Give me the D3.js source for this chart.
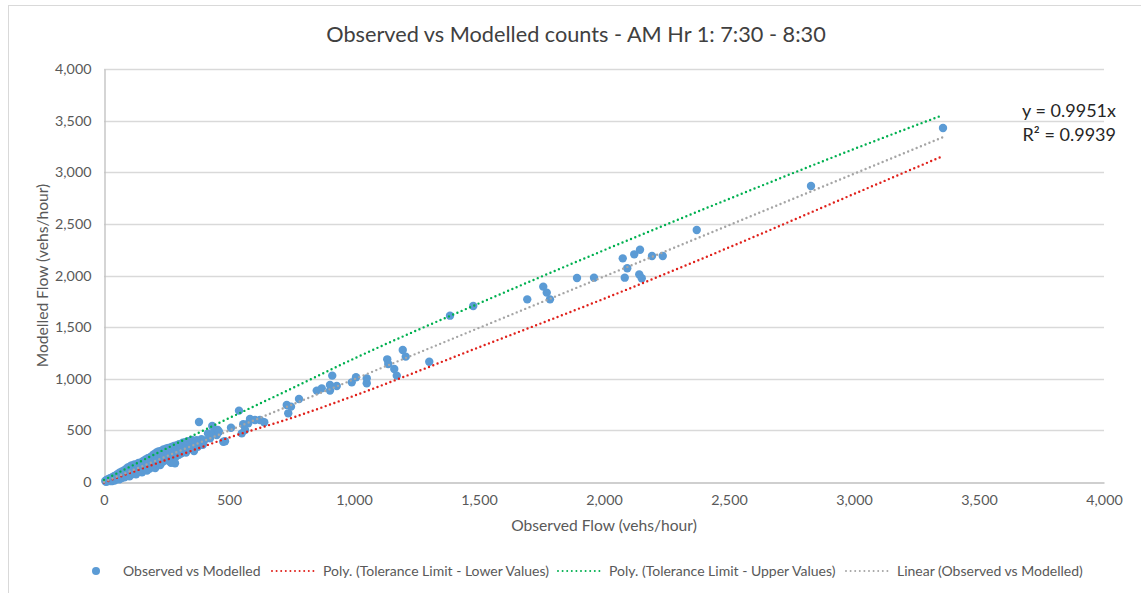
<!DOCTYPE html>
<html>
<head>
<meta charset="utf-8">
<script src="https://cdn.jsdelivr.net/npm/d3@7"></script>
<style>
  html, body { margin: 0; padding: 0; background: #fff; }
  svg { display: block; font-family: Lato, "Open Sans", sans-serif; }
</style>
</head>
<body>
<svg id="chart" width="1141" height="593"></svg>
<script>
// Observed vs modelled flow pairs (vehs/hour)
const observed = [
  5,8,10,12,15,18,20,22,25,28,30,32,35,38,40,42,45,48,50,52,55,58,60,62,65,68,70,72,75,78,
  80,82,85,88,90,92,95,98,100,102,105,108,110,112,115,118,120,122,125,128,130,133,135,138,140,142,145,148,150,152,
  155,158,160,162,165,168,170,172,175,178,180,183,185,188,190,193,195,198,200,203,205,208,210,213,215,218,220,223,225,228,
  230,233,235,238,240,245,248,250,253,255,258,260,263,265,268,270,275,278,280,284,288,290,295,298,300,305,308,310,315,320,
  325,328,330,335,340,345,351,355,360,365,370,375,380,390,395,400,416,424,433,437,451,455,460,477,484,508,540,551,557,564,
  577,584,604,624,641,731,737,748,780,851,871,904,904,913,931,991,1008,1051,1051,1133,1137,1161,1171,1195,1207,1301,
  1384,1477,1693,1757,1771,1784,1892,1960,2075,2083,2093,2121,2141,2144,2151,2192,2235,2371,2828,3356
];
const modelled = [
  10,3,20,6,24,10,30,14,38,18,8,45,22,35,55,15,40,65,28,50,78,38,25,90,55,35,100,62,45,110,
  70,45,85,125,60,105,140,75,95,55,150,105,160,75,120,145,90,170,125,75,155,130,95,185,150,100,165,190,130,95,
  150,205,175,118,215,145,190,110,230,165,205,130,240,185,150,255,215,160,270,205,135,240,285,180,230,295,205,260,165,300,
  240,280,195,315,255,210,290,325,230,275,330,205,305,250,185,340,290,235,350,181,250,355,310,260,365,325,275,340,380,300,
  385,285,345,395,320,365,407,335,300,380,405,340,390,415,360,400,470,423,542,471,455,504,487,390,394,526,691,471,559,504,
  568,610,600,600,578,746,665,730,804,885,907,939,885,1030,930,965,1014,1004,956,1188,1143,1094,1030,1278,1214,1165,
  1611,1705,1769,1892,1834,1769,1976,1979,2166,1979,2070,2205,2011,2250,1973,2189,2189,2441,2867,3428
];
// A few isolated readings above the main band
const extraObserved = [380];
const extraModelled = [581];

// Tolerance limit trend curves (observed flow -> modelled flow)
const tolX = [0, 250, 500, 750, 1000, 1500, 2000, 2500, 3000, 3356];
const tolUpper = [20, 325, 618, 905, 1195, 1730, 2245, 2742, 3225, 3554];
const tolLower = [-5, 215, 430, 620, 835, 1305, 1775, 2272, 2790, 3157];

// Linear fit through origin
const slope = 0.9951;
const rSquared = 0.9939;
const fitMaxX = 3356;

const xTicks = [0, 500, 1000, 1500, 2000, 2500, 3000, 3500, 4000];
const yTicks = [0, 500, 1000, 1500, 2000, 2500, 3000, 3500, 4000];

const legendLabels = [
  "Observed vs Modelled",
  "Poly. (Tolerance Limit - Lower Values)",
  "Poly. (Tolerance Limit - Upper Values)",
  "Linear (Observed vs Modelled)"
];

const svg = d3.select("#chart");
const textColor = "#595959";
const gridColor = "#d9d9d9";

// Outer chart frame
svg.append("rect")
  .attr("x", 8.5).attr("y", 5.5)
  .attr("width", 1200).attr("height", 700)
  .attr("fill", "none").attr("stroke", gridColor).attr("stroke-width", 1);

const x = d3.scaleLinear().domain([0, 4000]).range([104, 1104]);
const y = d3.scaleLinear().domain([0, 4000]).range([482, 69]);

// Horizontal gridlines
svg.append("g").selectAll("line")
  .data(yTicks.filter(d => d > 0))
  .join("line")
  .attr("x1", x(0)).attr("x2", x(4000))
  .attr("y1", d => Math.round(y(d)) + 0.5).attr("y2", d => Math.round(y(d)) + 0.5)
  .attr("stroke", gridColor).attr("stroke-width", 1.3);

// Axes
const xAxis = svg.append("g")
  .attr("transform", `translate(0,${Math.round(y(0)) + 0.5})`)
  .call(d3.axisBottom(x).tickValues(xTicks).tickSize(0).tickPadding(12)
    .tickFormat(d3.format(",")));
const yAxis = svg.append("g")
  .attr("transform", `translate(${Math.round(x(0)) + 0.5},0)`)
  .call(d3.axisLeft(y).tickValues(yTicks).tickSize(0).tickPadding(13)
    .tickFormat(d3.format(",")));
[xAxis, yAxis].forEach(g => {
  g.select(".domain").attr("stroke", "#bfbfbf").attr("stroke-width", 1.3);
  g.selectAll("text").attr("fill", textColor).attr("font-size", 14.3)
    .attr("font-family", "Lato, sans-serif");
});

// Axis titles
svg.append("text")
  .attr("x", 604).attr("y", 531)
  .attr("text-anchor", "middle").attr("fill", textColor)
  .attr("font-size", 15.6).text("Observed Flow (vehs/hour)");
svg.append("text")
  .attr("transform", `translate(48,${(y(0) + y(4000)) / 2}) rotate(-90)`)
  .attr("text-anchor", "middle").attr("fill", textColor)
  .attr("font-size", 15.6).text("Modelled Flow (vehs/hour)");

// Chart title
svg.append("text")
  .attr("x", 576).attr("y", 42)
  .attr("text-anchor", "middle").attr("fill", "#404040")
  .attr("font-size", 21.7).text("Observed vs Modelled counts - AM Hr 1: 7:30 - 8:30");

// Scatter points
const pts = observed.map((o, i) => ({ o, m: modelled[i] }))
  .concat(extraObserved.map((o, i) => ({ o, m: extraModelled[i] })));
svg.append("g").selectAll("circle")
  .data(pts)
  .join("circle")
  .attr("cx", d => x(d.o)).attr("cy", d => y(d.m))
  .attr("r", 4.2)
  .attr("fill", "#5b9bd5");

// Dotted trend lines, drawn over the points
const dotted = (sel, color) => sel
  .attr("fill", "none").attr("stroke", color)
  .attr("stroke-width", 2.4).attr("stroke-linecap", "round")
  .attr("stroke-dasharray", "0,4.6");

const curve = d3.line().x(d => x(d[0])).y(d => y(d[1])).curve(d3.curveMonotoneX);

svg.append("path")
  .datum(tolX.map((v, i) => [v, tolLower[i]]))
  .attr("d", curve).call(dotted, "#e0211b");
svg.append("path")
  .datum(tolX.map((v, i) => [v, tolUpper[i]]))
  .attr("d", curve).call(dotted, "#00b050");
svg.append("path")
  .datum([[0, 0], [fitMaxX, slope * fitMaxX]])
  .attr("d", d3.line().x(d => x(d[0])).y(d => y(d[1])))
  .call(dotted, "#a5a5a5");

// Trendline equation
const eq = svg.append("text")
  .attr("text-anchor", "end").attr("fill", "#262626").attr("font-size", 18);
eq.append("tspan").attr("x", 1116).attr("y", 117).text(`y = ${slope}x`);
eq.append("tspan").attr("x", 1116).attr("y", 141).text(`R² = ${rSquared}`);

// Legend
const ly = 571;
const legend = svg.append("g").attr("font-size", 14).attr("fill", textColor);
legend.append("circle").attr("cx", 96).attr("cy", ly).attr("r", 4).attr("fill", "#5b9bd5");
const legendItems = [
  { tx: 123, line: null, label: legendLabels[0] },
  { tx: 323, line: [272, 317, "#e0211b"], label: legendLabels[1] },
  { tx: 609, line: [558, 603, "#00b050"], label: legendLabels[2] },
  { tx: 897, line: [846, 891, "#a5a5a5"], label: legendLabels[3] }
];
legendItems.forEach(it => {
  if (it.line) {
    legend.append("line")
      .attr("x1", it.line[0]).attr("x2", it.line[1])
      .attr("y1", ly).attr("y2", ly)
      .call(dotted, it.line[2]).attr("stroke-width", 2);
  }
  legend.append("text").attr("x", it.tx).attr("y", ly + 5).text(it.label);
});
</script>
</body>
</html>
